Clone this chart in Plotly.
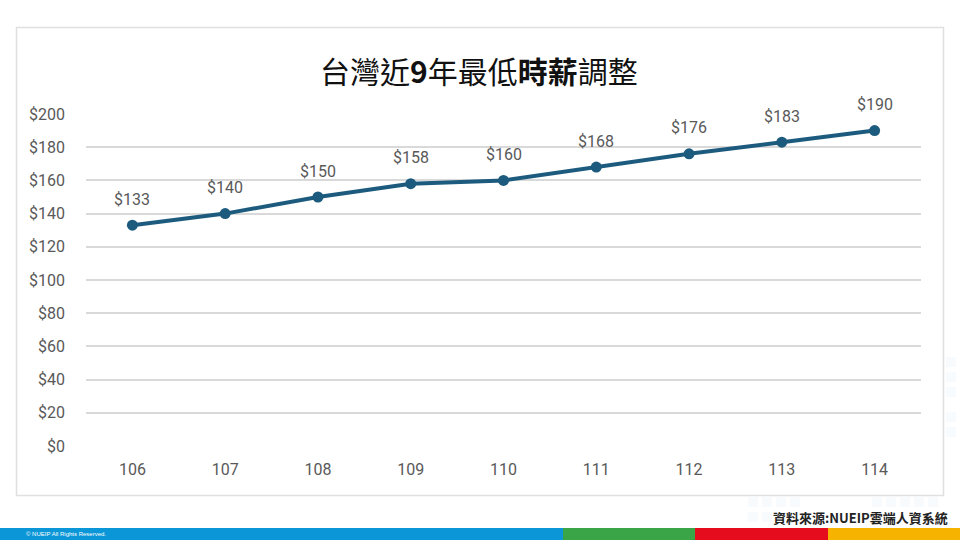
import plotly.graph_objects as go

years = ["106", "107", "108", "109", "110", "111", "112", "113", "114"]
wages = [133, 140, 150, 158, 160, 168, 176, 183, 190]
labels = ["$" + str(v) for v in wages]
tick_vals = [0, 20, 40, 60, 80, 100, 120, 140, 160, 180, 200]
tick_text = ["$" + str(v) for v in tick_vals]

W, H = 960, 540
L, R, T, B = 86, 921, 114, 446
LABEL_FONT = dict(family="Roboto, Open Sans, sans-serif", size=16, color="#595959")

def px(x):
    return (x - L) / (R - L)

def py(y):
    return (B - y) / (B - T)

fig = go.Figure()
fig.add_trace(go.Scatter(
    x=years, y=wages, mode="lines+markers",
    line=dict(color="#1d5b7e", width=4),
    marker=dict(color="#1d5b7e", size=11),
    cliponaxis=False, hoverinfo="skip",
))

shapes = []
# panel border
shapes.append(dict(type="rect", xref="paper", yref="paper",
                   x0=px(16.5), x1=px(943.5), y0=py(495.5), y1=py(27.5),
                   line=dict(color="#e0e0e0", width=1.5), fillcolor="rgba(0,0,0,0)", layer="below"))
# faint decorative squares
for (x0, y0) in [(748, 497), (762, 497), (776, 497), (790, 497), (748, 512), (762, 512),
                 (872, 497), (886, 497), (900, 497), (914, 497), (928, 497),
                 (946, 357), (946, 372), (946, 387), (946, 412), (946, 427)]:
    shapes.append(dict(type="rect", xref="paper", yref="paper",
                       x0=px(x0), x1=px(x0 + 10), y0=py(y0 + 10), y1=py(y0),
                       line=dict(width=0), fillcolor="rgba(160,200,225,0.07)", layer="below"))
# bottom color bar
for x0, x1, c in [(0, 563, "#0b96d7"), (563, 695, "#3aa547"), (695, 828, "#e50c1e"), (828, 960, "#f6b400")]:
    shapes.append(dict(type="rect", xref="paper", yref="paper",
                       x0=px(x0), x1=px(x1), y0=py(540), y1=py(528),
                       line=dict(width=0), fillcolor=c))

annotations = [
    dict(text="台灣近<b>9</b>年最低<b>時薪</b>調整", x=px(479), y=py(70), xref="paper", yref="paper",
         showarrow=False, xanchor="center", yanchor="middle",
         font=dict(family="Noto Sans CJK TC", size=30, color="#111111")),
    dict(text="<b>資料來源:NUEIP雲端人資系統</b>", x=px(950), y=py(517), xref="paper", yref="paper",
         showarrow=False, xanchor="right", yanchor="middle",
         font=dict(family="Noto Sans CJK TC", size=13, color="#222222")),
    dict(text="© NUEIP All Rights Reserved.", x=px(24), y=py(534), xref="paper", yref="paper",
         showarrow=False, xanchor="left", yanchor="middle",
         font=dict(family="Liberation Sans, Arial", size=6, color="#ffffff")),
]
for i, (yv, t) in enumerate(zip(wages, labels)):
    annotations.append(dict(text=t, x=i, y=yv, xref="x", yref="y", showarrow=False,
                            xanchor="center", yanchor="middle", yshift=26, font=LABEL_FONT))

fig.update_layout(
    width=W, height=H,
    margin=dict(l=L, r=W - R, t=T, b=H - B),
    paper_bgcolor="white", plot_bgcolor="white",
    showlegend=False,
    shapes=shapes, annotations=annotations,
    xaxis=dict(type="category", categoryorder="array", categoryarray=years,
               range=[-0.5, len(years) - 0.5],
               showgrid=False, showline=False, zeroline=False, ticks="",
               tickfont=LABEL_FONT, ticklabelstandoff=12, fixedrange=True),
    yaxis=dict(range=[0, 200], tickvals=tick_vals, ticktext=tick_text,
               showgrid=True, gridcolor="#d9d9d9", gridwidth=1.5, zeroline=False, showline=False,
               tickfont=LABEL_FONT, ticklabelstandoff=20, fixedrange=True),
)

fig.write_html("out.html", config=dict(displayModeBar=False))
